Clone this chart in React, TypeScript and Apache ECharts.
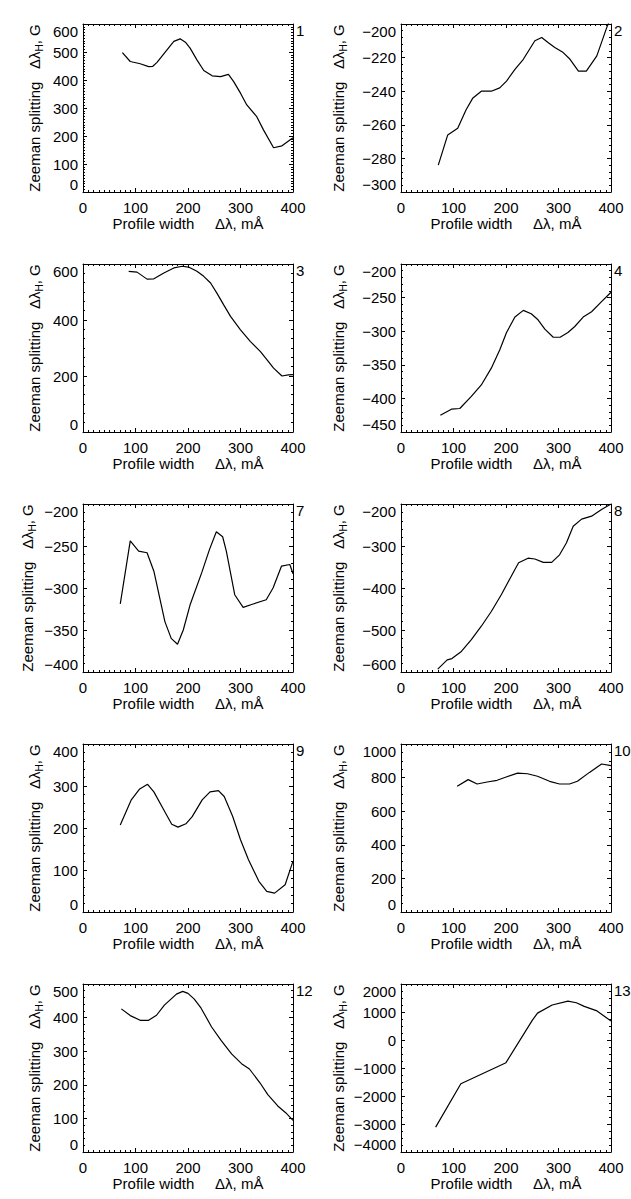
import React, { useEffect, useRef } from "react";
import * as echarts from "echarts";

const FONT = "'Liberation Sans', Arial, Helvetica, sans-serif";

// ---------- data ----------
const panelIds = ["1", "2", "3", "4", "7", "8", "9", "10", "12", "13"];

const xMin = 0;
const xMax = 400;
const xStep = 100;
const xMinorCount = 10;

const yMin = [0, -300, 0, -450, -400, -600, 0, 0, 0, -4000];
const yMax = [600, -200, 600, -200, -200, -200, 400, 1000, 500, 2000];
const yStep = [100, 20, 200, 50, 50, 100, 100, 200, 100, 1000];
const yMinorCount = [10, 5, 6, 5, 5, 5, 5, 4, 5, 4];

const panel1 = [
  [75, 498], [90, 466], [109, 458], [125, 448], [133, 449], [141, 463], [160, 508],
  [173, 538], [185, 547], [195, 535], [204, 514], [217, 472], [230, 434], [246, 415],
  [262, 412], [277, 420], [287, 394], [300, 353], [312, 311], [331, 269], [344, 221],
  [363, 158], [379, 165], [400, 194],
];
const panel2 = [
  [71, -284], [89, -266], [108, -262], [124, -251], [137, -244], [153, -240], [172, -240],
  [188, -238], [201, -234], [217, -227], [233, -221], [255, -210], [268, -208], [280, -211],
  [293, -214], [309, -217], [322, -221], [338, -228], [353, -228], [373, -219], [392, -202],
  [396, -199],
];
const panel3 = [
  [87, 574], [103, 571], [122, 546], [135, 547], [154, 568], [173, 586], [189, 592],
  [201, 589], [217, 574], [230, 556], [243, 532], [255, 496], [268, 454], [281, 413],
  [300, 365], [319, 323], [338, 287], [351, 257], [363, 228], [379, 200], [391, 204],
  [400, 205],
];
const panel4 = [
  [75, -425], [96, -416], [112, -415], [134, -397], [153, -380], [172, -355], [188, -328],
  [201, -302], [217, -279], [233, -269], [248, -274], [261, -283], [274, -297], [290, -309],
  [303, -309], [318, -302], [331, -293], [347, -279], [363, -271], [382, -256], [400, -242],
];
const panel7 = [
  [71, -319], [90, -244], [106, -256], [122, -258], [135, -280], [156, -340], [168, -360],
  [180, -367], [191, -350], [204, -320], [226, -282], [241, -254], [254, -233], [266, -239],
  [273, -256], [289, -308], [305, -323], [324, -319], [349, -314], [362, -300], [378, -274],
  [394, -272], [400, -283],
];
const panel8 = [
  [70, -593], [88, -571], [97, -568], [115, -551], [134, -523], [153, -491], [172, -456],
  [191, -416], [210, -372], [224, -340], [242, -329], [255, -331], [271, -339], [287, -339],
  [302, -321], [315, -293], [328, -253], [344, -236], [363, -229], [382, -213], [400, -200],
];
const panel9 = [
  [71, 207], [92, 267], [108, 293], [123, 304], [135, 286], [154, 243], [169, 209],
  [181, 202], [196, 210], [208, 227], [227, 267], [242, 286], [258, 289], [269, 275],
  [285, 228], [300, 172], [315, 125], [335, 73], [350, 49], [365, 45], [385, 65], [400, 121],
];
const panel10 = [
  [107, 748], [128, 788], [145, 762], [164, 774], [183, 784], [199, 802], [222, 827],
  [241, 823], [260, 808], [283, 778], [302, 762], [321, 762], [336, 778], [359, 831],
  [382, 881], [400, 871],
];
const panel12 = [
  [73, 426], [90, 406], [109, 392], [125, 392], [140, 407], [155, 437], [178, 470],
  [190, 478], [200, 472], [212, 455], [225, 428], [245, 372], [263, 332], [283, 292],
  [302, 263], [317, 247], [337, 206], [352, 171], [371, 137], [386, 117], [400, 94],
];
const panel13 = [
  [66, -3110], [114, -1560], [200, -810], [250, 700], [260, 960], [288, 1250],
  [318, 1390], [334, 1330], [349, 1200], [372, 1050], [400, 680],
];

const panelData = [panel1, panel2, panel3, panel4, panel7, panel8, panel9, panel10, panel12, panel13];

const xTitle = "Profile width     \u0394\u03bb, m\u00c5";
const yTitle = "{a|Zeeman splitting   \u0394\u03bb}{s|H}{a|, G}";

// ---------- layout ----------
const colLeft = [83, 401];
const boxW = 210;
const boxH = 168;
const rowTop = 24;
const rowPitch = 240;
const yNameGap = [39, 53, 39, 53, 46, 53, 39, 53, 39, 53];
const FS = 15;

function fmt(v: number) {
  return String(v).replace("-", "\u2212");
}

function buildOption() {
  const grids: any[] = [];
  const xAxes: any[] = [];
  const yAxes: any[] = [];
  const series: any[] = [];
  const graphics: any[] = [];

  const lineStyle = { color: "#000", width: 1 };
  const tickCommon = { show: true, inside: true, length: 4, lineStyle: { color: "#000", width: 1 } };

  panelIds.forEach((id, i) => {
    const r = Math.floor(i / 2);
    const c = i % 2;
    const left = colLeft[c];
    const top = rowTop + rowPitch * r;
    grids.push({ left, top, width: boxW, height: boxH, containLabel: false });

    const xBase = {
      gridIndex: i,
      type: "value",
      min: xMin,
      max: xMax,
      interval: xStep,
      axisLine: { show: true, onZero: false, lineStyle },
      axisTick: tickCommon,
      minorTick: { show: true, splitNumber: xMinorCount, length: 2, lineStyle: { color: "#000", width: 1 } },
      splitLine: { show: false },
      minorSplitLine: { show: false },
    };
    xAxes.push({
      ...xBase,
      position: "bottom",
      axisLabel: { show: true, margin: 8, color: "#000", fontSize: FS, fontFamily: FONT, formatter: fmt },
      name: xTitle,
      nameLocation: "middle",
      nameGap: 22,
      nameTextStyle: { color: "#000", fontSize: FS, fontFamily: FONT },
    });
    xAxes.push({ ...xBase, position: "top", axisLabel: { show: false } });

    const yBase = {
      gridIndex: i,
      type: "value",
      min: yMin[i],
      max: yMax[i],
      interval: yStep[i],
      axisLine: { show: true, onZero: false, lineStyle },
      axisTick: tickCommon,
      minorTick: { show: true, splitNumber: yMinorCount[i], length: 2, lineStyle: { color: "#000", width: 1 } },
      splitLine: { show: false },
      minorSplitLine: { show: false },
    };
    yAxes.push({
      ...yBase,
      position: "left",
      axisLabel: {
        show: true,
        margin: 5,
        color: "#000",
        fontSize: FS,
        fontFamily: FONT,
        formatter: fmt,
        verticalAlignMinLabel: "bottom",
        verticalAlignMaxLabel: "top",
      },
      name: yTitle,
      nameLocation: "middle",
      nameRotate: 90,
      nameGap: yNameGap[i],
      nameTextStyle: {
        color: "#000",
        fontSize: FS,
        fontFamily: FONT,
        rich: {
          a: { fontSize: FS, fontFamily: FONT, color: "#000", lineHeight: 19 },
          s: { fontSize: 10, fontFamily: FONT, color: "#000", lineHeight: 10, verticalAlign: "bottom" },
        },
      },
    });
    yAxes.push({ ...yBase, position: "right", axisLabel: { show: false } });

    series.push({
      type: "line",
      xAxisIndex: 2 * i,
      yAxisIndex: 2 * i,
      data: panelData[i],
      showSymbol: false,
      symbol: "none",
      clip: true,
      lineStyle: { color: "#000", width: 1.2 },
      z: 5,
    });

    graphics.push({
      type: "text",
      left: left + boxW + 3,
      top: top - 1,
      style: { text: id, fontSize: FS, fontFamily: FONT, fill: "#000" },
    });
  });

  return {
    animation: false,
    backgroundColor: "#fff",
    grid: grids,
    xAxis: xAxes,
    yAxis: yAxes,
    series,
    graphic: graphics,
  };
}

export default function App() {
  const ref = useRef<HTMLDivElement>(null);
  useEffect(() => {
    if (!ref.current) return;
    const chart = echarts.init(ref.current, null, { renderer: "svg" });
    chart.setOption(buildOption() as any);
    return () => chart.dispose();
  }, []);
  return (
    <div
      ref={ref}
      style={{ position: "absolute", left: 0, top: 0, width: 631, height: 1199, background: "#fff" }}
    />
  );
}
